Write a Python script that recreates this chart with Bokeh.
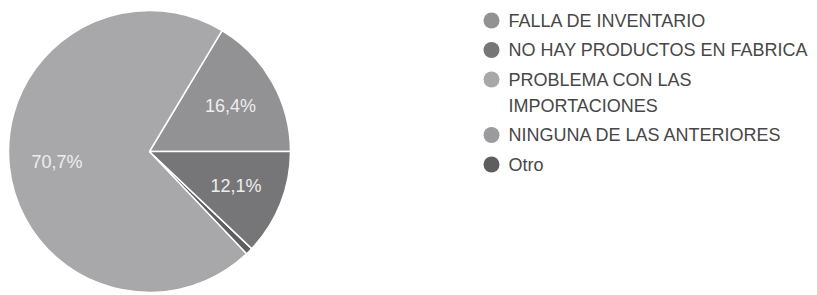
import numpy as np
from bokeh.plotting import figure
from bokeh.models import Range1d, ColumnDataSource
from bokeh.core.properties import value
from bokeh.embed import file_html
from bokeh.resources import INLINE

# ---- data ----
categories = ["FALLA DE INVENTARIO", "NO HAY PRODUCTOS EN FABRICA",
              "PROBLEMA CON LAS\nIMPORTACIONES", "NINGUNA DE LAS ANTERIORES", "Otro"]
percent = [16.4, 12.1, 70.7, 0.0, 0.8]
colors = ["#929294", "#767678", "#a8a8aa", "#9b9b9d", "#5e5e60"]
labels = ["16,4%", "12,1%", "70,7%", "", ""]
# drawing order, anticlockwise from 3 o'clock
draw_order = [0, 2, 3, 4, 1]

W, H = 817, 295
p = figure(width=W, height=H, output_backend="svg", toolbar_location=None,
           x_range=Range1d(0, W), y_range=Range1d(0, H), min_border=0)
p.axis.visible = False
p.grid.visible = False
p.outline_line_color = None
p.background_fill_color = "white"
p.border_fill_color = "white"

cx, cy, r = 149, 144, 141

tot = sum(percent)
starts, ends, cols, mids = [], [], [], []
acc = 0.0
for i in draw_order:
    a0 = acc / tot * 2 * np.pi
    acc += percent[i]
    a1 = acc / tot * 2 * np.pi
    if percent[i] > 0:
        starts.append(a0); ends.append(a1); cols.append(colors[i])
    mids.append((i, (a0 + a1) / 2))

src = ColumnDataSource(dict(x=[cx] * len(starts), y=[cy] * len(starts),
                            s=starts, e=ends, c=cols))
p.wedge(x="x", y="y", radius=r, start_angle="s", end_angle="e",
        fill_color="c", line_color="white", line_width=1.5, source=src)

lx, ly, lt = [], [], []
for i, m in mids:
    if labels[i]:
        lx.append(cx + 0.66 * r * np.cos(m))
        ly.append(cy + 0.66 * r * np.sin(m))
        lt.append(labels[i])
p.text(x=lx, y=ly, text=lt, text_align="center", text_baseline="middle",
       text_color="#eeeeee", text_font=value("Liberation Sans"), text_font_size="18px")

# ---- legend ----
leg_x, leg_top = 491, 275
item_step, line_step = 29.5, 26
cy_list, tx, ty, tt = [], [], [], []
y = leg_top
for k, name in enumerate(categories):
    cy_list.append(y)
    for j, line in enumerate(name.split("\n")):
        tx.append(leg_x + 17); ty.append(y - j * line_step); tt.append(line)
    y -= item_step + line_step * (len(name.split("\n")) - 1)
p.scatter(x=[leg_x] * len(categories), y=cy_list, marker="circle", size=16,
          fill_color=colors, line_color=None)
p.text(x=tx, y=ty, text=tt, text_align="left", text_baseline="middle",
       text_color="#474747", text_font=value("Liberation Sans"), text_font_size="18px")

open("out.html", "w").write(file_html(p, INLINE))
